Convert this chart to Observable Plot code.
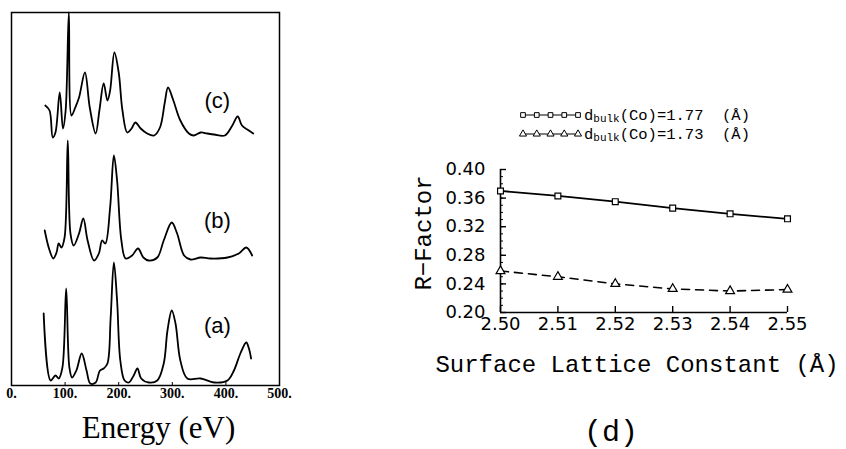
<!DOCTYPE html>
<html>
<head>
<meta charset="utf-8">
<script src="https://cdn.jsdelivr.net/npm/d3@7"></script>
<script src="https://cdn.jsdelivr.net/npm/@observablehq/plot@0.6"></script>
<style>
  html, body { margin: 0; padding: 0; background: #fff; }
  #wrap { position: relative; width: 846px; height: 449px; overflow: hidden; background: #fff; }
  #wrap > * { position: absolute; top: 0; }
</style>
</head>
<body>
<div id="wrap"></div>
<script>
// ---------- Left panel: I(E) spectra ----------
const energyA = [60,73,82,88,95,102,108,113,121,131,140,147,157,165,172,179,185,191,197,203,211,219,228,235,242,256,272,284,291,299,306,315,328,353,378,403,415,427,438,443,447];
const intensityA = [72,5,10,7,18,97,18,8,15,32,15,2,3,15,17,22,68,123,85,25,5,3,10,17,7,3,5,22,55,75,62,25,7,7,3,5,15,32,43,37,27];

const energyB = [62,70,78,84,88,93,99,105,110,116,126,134,142,154,163,169,175,184,191,197,205,213,225,236,246,256,272,284,299,309,322,334,353,371,403,424,438,449];
const intensityB = [155,137,127,133,142,138,148,245,152,140,152,167,145,125,132,145,142,178,230,205,145,127,130,137,128,125,128,145,163,152,130,126,128,127,128,132,138,130];

const energyC = [63,71,77,82,90,96,101,107,112,119,126,137,146,157,164,172,179,184,192,200,207,216,224,231,241,253,266,277,286,292,302,315,331,340,353,365,378,398,412,422,430,440,451];
const intensityC = [280,275,248,253,293,257,275,373,270,278,288,313,278,252,275,302,285,295,333,313,275,253,257,263,257,252,250,258,283,298,285,265,252,250,253,252,251,250,260,269,260,256,252];

const curveLabels = ["(a)", "(b)", "(c)"];
const curveLabelEnergy = [384, 384, 384];
const curveLabelIntensity = [60, 165, 285];
const energyTicks = [0, 100, 200, 300, 400, 500];

// ---------- Right panel: R-factor ----------
const latticeConstant = [2.50, 2.51, 2.52, 2.53, 2.54, 2.55];
const rFactor177 = [0.370, 0.363, 0.355, 0.346, 0.338, 0.331];
const rFactor173 = [0.258, 0.250, 0.240, 0.233, 0.230, 0.232];
const rTicks = [0.20, 0.24, 0.28, 0.32, 0.36, 0.40];
const rMinorTicks = d3.range(20, 41).map(v => v / 100);
const latticeTicks = [2.50, 2.51, 2.52, 2.53, 2.54, 2.55];
const latticeMinorTicks = d3.range(250, 556, 2.5).map(v => v / 1000).filter(v => v <= 2.55);

const toRows = (xs, ys) => xs.map((x, i) => ({x, y: ys[i]}));

const left = Plot.plot({
  width: 300, height: 449,
  marginLeft: 11, marginRight: 21, marginTop: 12, marginBottom: 64,
  x: {domain: [0, 500]},
  y: {domain: [0, 373], axis: null},
  style: {fontFamily: "Liberation Serif", fontSize: "14px", color: "black", background: "white", overflow: "visible"},
  marks: [
    Plot.frame({stroke: "black", strokeWidth: 1.5}),
    Plot.axisX({ticks: energyTicks, tickFormat: d => d + ".", tickSize: 0, tickPadding: 3, label: null, fontSize: 14, fontWeight: "bold"}),
    Plot.axisX({ticks: energyTicks, tickSize: 3, dy: -3, tickFormat: () => "", label: null}),
    Plot.line(toRows(energyA, intensityA), {x: "x", y: "y", stroke: "black", strokeWidth: 1.8, curve: "catmull-rom"}),
    Plot.line(toRows(energyB, intensityB), {x: "x", y: "y", stroke: "black", strokeWidth: 1.8, curve: "catmull-rom"}),
    Plot.line(toRows(energyC, intensityC), {x: "x", y: "y", stroke: "black", strokeWidth: 1.8, curve: "catmull-rom"}),
    Plot.text(curveLabels, {x: (d, i) => curveLabelEnergy[i], y: (d, i) => curveLabelIntensity[i], text: d => d, fontSize: 22, fontFamily: "Liberation Sans"}),
    Plot.text(["Energy (eV)"], {frameAnchor: "bottom", dx: 13, dy: 52, fontSize: 31, fontFamily: "Liberation Serif"})
  ]
});
left.style.left = "0px";

const right = Plot.plot({
  width: 506, height: 449,
  marginLeft: 160, marginRight: 59, marginTop: 169, marginBottom: 137,
  x: {domain: [2.50, 2.55]},
  y: {domain: [0.20, 0.40]},
  style: {fontFamily: "DejaVu Sans", fontSize: "18px", color: "black", background: "transparent", overflow: "visible"},
  marks: [
    Plot.axisY({ticks: rTicks, tickSize: 0, tickPadding: 15, tickFormat: d3.format(".2f"), label: null, fontSize: 18}),
    Plot.axisY({ticks: rTicks, tickSize: 6, dx: 6, tickFormat: () => "", label: null, strokeWidth: 1.4}),
    Plot.axisY({ticks: rMinorTicks, tickSize: 3, dx: 3, tickFormat: () => "", label: null}),
    Plot.axisX({ticks: latticeTicks, tickSize: 0, tickPadding: 5, tickFormat: d3.format(".2f"), label: null, fontSize: 18}),
    Plot.axisX({ticks: latticeTicks, tickSize: 6, dy: -6, tickFormat: () => "", label: null, strokeWidth: 1.4}),
    Plot.axisX({ticks: latticeMinorTicks, tickSize: 2, dy: -2, tickFormat: () => "", label: null}),
    Plot.ruleX([2.50], {stroke: "black", strokeWidth: 1.6}),
    Plot.ruleY([0.20], {stroke: "black", strokeWidth: 1.6}),
    Plot.line(toRows(latticeConstant, rFactor177), {x: "x", y: "y", stroke: "black", strokeWidth: 1.8}),
    Plot.dot(toRows(latticeConstant, rFactor177), {x: "x", y: "y", symbol: "square", r: 3.3, fill: "white", stroke: "black", strokeWidth: 1.2}),
    Plot.line(toRows(latticeConstant, rFactor173), {x: "x", y: "y", stroke: "black", strokeWidth: 1.6, strokeDasharray: "8,6"}),
    Plot.dot(toRows(latticeConstant, rFactor173), {x: "x", y: "y", symbol: "triangle", r: 3.3, fill: "white", stroke: "black", strokeWidth: 1.2}),
    Plot.text(["R\u2212Factor"], {frameAnchor: "left", textAnchor: "middle", dx: -77, dy: -8, rotate: -90, fontSize: 24, fontFamily: "Liberation Mono"}),
    Plot.text(["Surface Lattice Constant (\u00C5)"], {frameAnchor: "bottom", dx: -7, dy: 59, fontSize: 24, fontFamily: "Liberation Mono"}),
    Plot.text(["(d)"], {frameAnchor: "bottom", dx: -33, dy: 128, fontSize: 30, fontFamily: "Liberation Mono"})
  ]
});
right.style.left = "340px";

const wrap = document.getElementById("wrap");
wrap.appendChild(left);
wrap.appendChild(right);

// ---------- Legend (above the right panel) ----------
const legendValues = ["1.77", "1.73"];
const legendSymbols = ["square", "triangle"];
const legend = d3.create("svg").attr("width", 846).attr("height", 449)
  .style("left", "0px").style("pointer-events", "none");
legendValues.forEach((v, i) => {
  const y = 115 + i * 19;
  const g = legend.append("g");
  g.append("line").attr("x1", 523).attr("x2", 578).attr("y1", y).attr("y2", y)
    .attr("stroke", "black").attr("stroke-width", 1.2);
  const sym = d3.symbol(legendSymbols[i] === "square" ? d3.symbolSquare : d3.symbolTriangle, 22);
  d3.range(5).forEach(k => {
    g.append("path").attr("d", sym()).attr("transform", `translate(${523 + k * 13.75},${y})`)
      .attr("fill", "white").attr("stroke", "black").attr("stroke-width", 1);
  });
  const t = g.append("text").attr("x", 584).attr("y", y + 5)
    .attr("font-family", "Liberation Mono").attr("font-size", 15.5).attr("fill", "black");
  t.append("tspan").text("d");
  t.append("tspan").attr("font-size", 11).attr("dy", 2).text("bulk");
  t.append("tspan").attr("dy", -2).text(`(Co)=${v}\u00A0\u00A0(\u00C5)`);
});
wrap.appendChild(legend.node());
</script>
</body>
</html>
